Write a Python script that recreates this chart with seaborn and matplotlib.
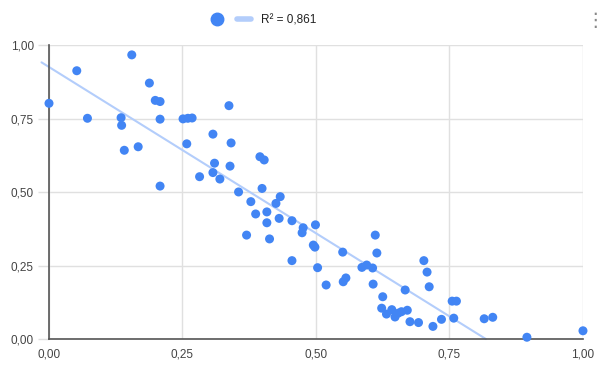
import numpy as np
import pandas as pd
import matplotlib.pyplot as plt
import seaborn as sns
from matplotlib.lines import Line2D

# values
x_vals = [0.000, 0.052, 0.072, 0.155, 0.135, 0.136, 0.141, 0.167, 0.188, 0.199,
          0.208, 0.208, 0.208, 0.251, 0.260, 0.268, 0.258, 0.282, 0.307, 0.310,
          0.307, 0.320, 0.337, 0.341, 0.339, 0.355, 0.395, 0.403, 0.399, 0.378,
          0.433, 0.425, 0.387, 0.408, 0.408, 0.431, 0.370, 0.413, 0.455, 0.476,
          0.474, 0.499, 0.495, 0.498, 0.455, 0.503, 0.550, 0.519, 0.611, 0.614,
          0.586, 0.595, 0.606, 0.551, 0.556, 0.607, 0.625, 0.667, 0.702, 0.708,
          0.712, 0.623, 0.632, 0.642, 0.648, 0.654, 0.660, 0.671, 0.676, 0.692,
          0.719, 0.735, 0.755, 0.763, 0.758, 0.815, 0.831, 0.895, 1.000]
y_vals = [0.803, 0.914, 0.752, 0.968, 0.754, 0.728, 0.643, 0.655, 0.872, 0.813,
          0.809, 0.749, 0.521, 0.750, 0.752, 0.753, 0.665, 0.553, 0.698, 0.599,
          0.567, 0.545, 0.795, 0.668, 0.589, 0.501, 0.621, 0.610, 0.513, 0.468,
          0.485, 0.462, 0.426, 0.433, 0.396, 0.411, 0.354, 0.341, 0.403, 0.379,
          0.362, 0.389, 0.320, 0.313, 0.267, 0.243, 0.296, 0.184, 0.354, 0.293,
          0.244, 0.252, 0.242, 0.195, 0.208, 0.187, 0.144, 0.167, 0.267, 0.228,
          0.178, 0.105, 0.085, 0.100, 0.075, 0.088, 0.093, 0.098, 0.059, 0.056,
          0.043, 0.067, 0.129, 0.129, 0.071, 0.069, 0.074, 0.006, 0.028]
tick_vals = [0, 0.25, 0.5, 0.75, 1.0]
tick_labels = ["0,00", "0,25", "0,50", "0,75", "1,00"]
trend_label = "R² = 0,861"

point_color = "#4285f4"
trend_color = "#b3cdfb"

sns.set_theme(style="white")
plt.rcParams['font.family'] = ['Liberation Sans', 'DejaVu Sans']

df = pd.DataFrame({"x": x_vals, "y": y_vals})

# linear trendline, drawn until it reaches zero
slope, intercept = np.polyfit(df["x"], df["y"], 1)
x_end = -intercept / slope
line_df = pd.DataFrame({"x": [-0.014, x_end]})
line_df["y"] = intercept + slope * line_df["x"]

fig = plt.figure(figsize=(6.05, 3.72), dpi=100)
ax = fig.add_axes([0.081, 0.0887, 0.8826, 0.789])

sns.lineplot(data=line_df, x="x", y="y", ax=ax, color=trend_color, lw=1.5,
             clip_on=False, zorder=2)
sns.scatterplot(data=df, x="x", y="y", ax=ax, color=point_color, s=42,
                edgecolor="none", zorder=3, clip_on=False)

ax.set_xlim(0, 1)
ax.set_ylim(0, 1)
ax.set_xticks(tick_vals, tick_labels)
ax.set_yticks(tick_vals, tick_labels)
ax.set_xlabel("")
ax.set_ylabel("")
ax.grid(True, color="#e0e0e0", lw=1)
ax.set_axisbelow(True)
ax.tick_params(axis="y", length=8, width=1, color="#e0e0e0", pad=3,
               labelsize=8.5, labelcolor="#444444", left=True)
ax.tick_params(axis="x", length=0, pad=7, labelsize=8.5, labelcolor="#444444")
for side in ["top", "right"]:
    ax.spines[side].set_visible(False)
for side in ["left", "bottom"]:
    ax.spines[side].set_color("#555555")
    ax.spines[side].set_linewidth(1.2)

handles = [Line2D([], [], marker="o", color=point_color, ls="none", markersize=9),
           Line2D([], [], color=trend_color, lw=4)]
fig.legend(handles, ["", trend_label], loc="center", bbox_to_anchor=(0.435, 0.946),
           ncol=2, frameon=False, fontsize=8.5, handlelength=1.2, handletextpad=0.8,
           columnspacing=0.3, labelcolor="#222222")

fig.text(0.984, 0.946, "⋮", ha="center", va="center", fontsize=14,
         color="#888888", family="DejaVu Sans")

plt.savefig("out.png", dpi=100)
plt.close()
